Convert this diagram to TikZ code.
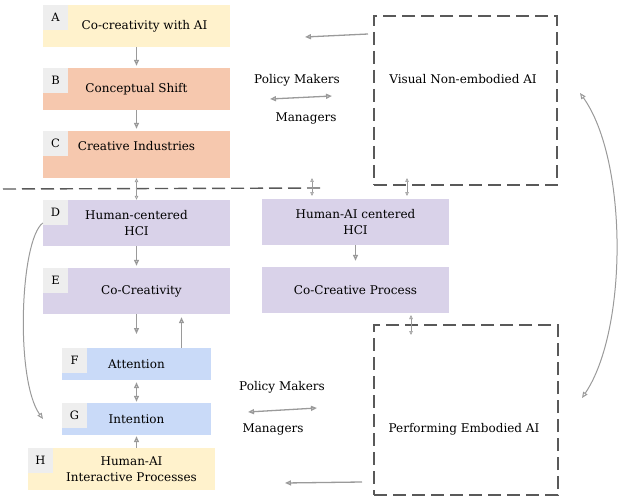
\documentclass[tikz,border=0pt]{standalone}
\usepackage{fontspec}
\setmainfont{DejaVu Serif}
\usetikzlibrary{arrows.meta,calc}
\definecolor{CoYellow}{HTML}{FFF2CC}
\definecolor{CoSalmon}{HTML}{F6C8AE}
\definecolor{CoLilac}{HTML}{D9D2E9}
\definecolor{CoBlue}{HTML}{C9DAF8}
\definecolor{CoTag}{HTML}{EEEEEE}
\definecolor{CoArrow}{HTML}{9A9A9A}
\definecolor{CoDash}{HTML}{595959}

\begin{document}
\begin{tikzpicture}[x=1pt,y=-1pt,
      >={Triangle[open,length=6pt,width=5pt]},
      flow/.style={->,line width=1.3pt,draw=CoArrow},
      twoway/.style={<->,line width=1.3pt,draw=CoArrow},
      tick/.style={{Triangle[open,length=4pt,width=3.5pt]}-{Triangle[open,length=4pt,width=3.5pt]},
        line width=0.7pt,draw=CoArrow},
      cut/.style={draw=CoDash,line width=1.4pt,dash pattern=on 13pt off 6pt},
      stage/.style={minimum width=187pt,minimum height=46pt,align=center,inner sep=0pt,
        font=\fontsize{12}{15.5}\selectfont},
      narrow/.style={stage,minimum width=149pt,minimum height=32pt},
      tag/.style={fill=CoTag,minimum size=25pt,inner sep=0pt,anchor=north west,
        font=\fontsize{11.5}{13}\selectfont},
      zone/.style={cut,minimum width=183pt,minimum height=169pt,inner sep=0pt},
      role/.style={font=\fontsize{12}{14}\selectfont}
    ]
    \useasboundingbox (0,0) rectangle (624,500);

    % upper half
    \node[stage,fill=CoYellow,minimum height=42pt] (a) at (136.5,26) {\hspace*{16pt}Co-creativity with AI};
    \node[stage,fill=CoSalmon,minimum height=42pt] (b) at (136.5,89) {Conceptual Shift};
    \node[stage,fill=CoSalmon,minimum height=47pt,text depth=17pt] (c) at (136.5,154.5) {Creative Industries};
    \node[tag] (ta) at (a.north west) {A};
    \node[tag] (tb) at (b.north west) {B};
    \node[tag] (tc) at (c.north west) {C};

    \node[zone] (vis) at (465.5,100.5) {};
    \node[role] (vistxt) at (463,79) {Visual Non-embodied AI};
    \node[role] (pm1) at (297,80) {Policy Makers};
    \node[role] (mg1) at (306,118) {Managers};

    % lower half
    \node[stage,fill=CoLilac] (d) at (136.5,223) {Human-centered\\HCI};
    \node[stage,fill=CoLilac] (e) at (136.5,291) {\hspace*{10pt}Co-Creativity};
    \node[narrow,fill=CoBlue] (f) at (136.5,364) {Attention};
    \node[narrow,fill=CoBlue] (g) at (136.5,419) {Intention};
    \node[stage,fill=CoYellow,minimum height=42pt] (h) at (121.5,469) {\hspace*{20pt}Human-AI\\\hspace*{20pt}Interactive Processes};
    \node[tag] (td) at (d.north west) {D};
    \node[tag] (te) at (e.north west) {E};
    \node[tag] (tf) at (f.north west) {F};
    \node[tag] (tg) at (g.north west) {G};
    \node[tag] (th) at (h.north west) {H};

    \node[stage,fill=CoLilac] (ha) at (355.5,222) {Human-AI centered\\HCI};
    \node[stage,fill=CoLilac] (cp) at (355.5,290) {Co-Creative Process};

    \node[zone,minimum width=184pt,minimum height=170pt] (perf) at (466,410) {};
    \node[role] (perftxt) at (464,429) {Performing Embodied AI};
    \node[role] (pm2) at (282,387) {Policy Makers};
    \node[role] (mg2) at (273,429) {Managers};

    % free ends
    \coordinate (cutL) at (3,189);
    \coordinate (cutR) at (322,188);
    \coordinate (t1a) at (312,178);
    \coordinate (t1b) at (312,196);
    \coordinate (t2a) at (407,178);
    \coordinate (t2b) at (407,196);
    \coordinate (t3a) at (411,315);
    \coordinate (t3b) at (411,335);
    \coordinate (v1) at (368,34);
    \coordinate (v2) at (305,37);
    \coordinate (p1a) at (270,99);
    \coordinate (p1b) at (332,96);
    \coordinate (p2a) at (248,412);
    \coordinate (p2b) at (317,408);
    \coordinate (w1) at (362,482);
    \coordinate (w2) at (285,483);
    \coordinate (r1) at (582,398);
    \coordinate (r2) at (580,93);
    \coordinate (l2) at (43,419);
    \coordinate (egap) at (136.5,334);

    \draw[cut] (cutL) -- (cutR);

    \draw[flow,shorten >=2pt] (a) -- (b);
    \draw[flow,shorten >=2pt] (b) -- (c);
    \draw[flow,shorten >=2pt] (d) -- (e);
    \draw[flow] (e.south) -- (egap);
    \draw[flow,shorten >=3pt] ([xshift=45pt]f.north) -- ([xshift=45pt]e.south);
    \draw[twoway,shorten <=2pt,shorten >=1pt] (f) -- (g);
    \draw[flow,shorten >=1pt] (h.north -| g.south) -- (g.south);
    \draw[flow,shorten >=6pt] (ha) -- (cp);

    \draw[tick] (c.south) -- (d.north);
    \draw[tick] (t1a) -- (t1b);
    \draw[tick] (t2a) -- (t2b);
    \draw[tick] (t3a) -- (t3b);

    \draw[flow] (v1) -- (v2);
    \draw[twoway] (p1a) -- (p1b);
    \draw[twoway] (p2a) -- (p2b);
    \draw[flow] (w1) -- (w2);

    \draw[twoway,line width=1pt] (r1) .. controls (628,330) and (628,160) .. (r2);
    \draw[flow,line width=1pt] (d.west) .. controls (20,240) and (15,380) .. (l2);
  \end{tikzpicture}
\end{document}
